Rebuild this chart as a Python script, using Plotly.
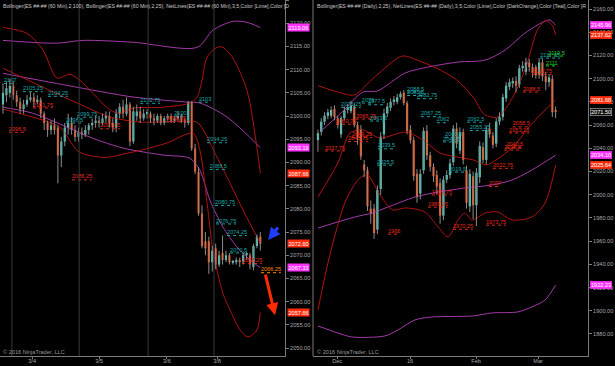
import plotly.graph_objects as go

# ---------------- 60-min panel data ----------------
h_open = [2102.5, 2104.5, 2105, 2106.5, 2104.5, 2103, 2101.5, 2102.5, 2103.5, 2104, 2103, 2103.5, 2100.5, 2098.5,
          2097, 2098, 2097.5, 2091.5, 2094.5, 2097.5, 2098.5, 2097, 2095.5, 2096.5, 2096, 2097, 2098, 2098.5,
          2099, 2098.5, 2099.5, 2100, 2098.5, 2097.5, 2100.5, 2102, 2100.5, 2102.5, 2094.5, 2100, 2101, 2099.5,
          2100.5, 2100.5, 2099.5, 2099, 2100, 2098.5, 2099.5, 2100, 2099, 2099.5, 2100, 2099, 2098.5, 2103,
          2093, 2088, 2079, 2073, 2073, 2068.5, 2071.5, 2068, 2070.5, 2069, 2070, 2068.5, 2068.5, 2069, 2068.5,
          2070, 2070, 2067.5, 2072, 2074]
h_high = [2107, 2107.5, 2108, 2107.5, 2105.5, 2104, 2103.5, 2104.5, 2105.25, 2105, 2104.5, 2104, 2101, 2099,
          2099, 2099.5, 2098, 2095.5, 2098.5, 2100.5, 2099.75, 2098, 2097.5, 2097.5, 2098, 2098.5, 2099.5, 2100,
          2100, 2100.5, 2101, 2101, 2099.5, 2101.5, 2102.75, 2103.5, 2104, 2103, 2102, 2102.5, 2102, 2101.5,
          2101.5, 2101, 2100.5, 2100.5, 2100.5, 2100, 2100.5, 2100.5, 2100, 2101, 2100.5, 2099.5, 2103.25, 2103.25,
          2094, 2089, 2080.75, 2075, 2074, 2072, 2072.5, 2071, 2074.25, 2071, 2070.5, 2069, 2069.5, 2069.5, 2070.5,
          2070.75, 2070.5, 2072.5, 2074.5, 2075]
h_low = [2100.5, 2103, 2104, 2103.5, 2102, 2100.5, 2100.5, 2102, 2103, 2102, 2102.5, 2099.5, 2097, 2095.5,
         2096, 2096, 2085.5, 2089, 2093.5, 2096, 2096, 2094.5, 2094.5, 2095, 2095.5, 2096, 2097, 2097.5,
         2097.5, 2098, 2098.5, 2097.5, 2096.5, 2096.5, 2099.5, 2099.5, 2100, 2093.5, 2094, 2099, 2098.5, 2099,
         2099.5, 2098.5, 2098, 2098.5, 2098, 2098, 2099, 2098.5, 2098.5, 2099, 2098.5, 2097.5, 2098, 2092.5,
         2087.5, 2078.5, 2071.5, 2070, 2066, 2066.5, 2067, 2067.5, 2068, 2068.5, 2068, 2068, 2068, 2067.5, 2068,
         2069, 2067, 2066.75, 2071.5, 2071]
h_close = [2105, 2106, 2106.5, 2104.5, 2103, 2101.5, 2102.5, 2103.5, 2104, 2103, 2103.5, 2100.5, 2098.5, 2097,
           2098, 2097, 2091.5, 2094.5, 2097.5, 2098.5, 2097, 2095.5, 2096.5, 2096, 2097, 2098, 2098.5, 2099,
           2098.5, 2099.5, 2100, 2098.5, 2097.5, 2100.5, 2102, 2100.5, 2102.5, 2094.5, 2101, 2101, 2099.5, 2100.5,
           2100.75, 2099.5, 2099, 2100, 2098.5, 2099.5, 2100, 2099, 2099.5, 2100, 2099, 2098.5, 2103, 2093,
           2088, 2079, 2072, 2071.5, 2068.5, 2071, 2068, 2070, 2069, 2070, 2068.5, 2068.75, 2069, 2068.5, 2070,
           2070.5, 2068, 2072, 2074, 2072.5]

# Bollinger(2,25) on 60-min (bar index, price)
h_bb25_up_x = [0, 7, 11.7, 15.7, 19.5, 22.4, 26.2, 31.2, 34.1, 37.9, 46.6, 54.5, 56.6, 58, 59.5, 62.4, 64.1, 67, 71.1, 74, 75]
h_bb25_up_y = [2119.1, 2117.8, 2114.2, 2108.2, 2109.0, 2107.7, 2104.9, 2101.3, 2100.6, 2101.7, 2101.9, 2102.8, 2104.1,
               2107.7, 2112.7, 2114.8, 2114.8, 2112.5, 2105.6, 2093.3, 2087.66]
h_bb25_mid_x = [0, 11.7, 21.6, 31.2, 40, 54.5, 56.9, 62.4, 66.2, 70, 75]
h_bb25_mid_y = [2110.3, 2106.2, 2102.8, 2099.8, 2098.7, 2098.9, 2098.5, 2091.1, 2085.5, 2079.7, 2072.60]
h_bb25_lo_x = [0, 11.7, 16.6, 21.6, 24.5, 30.3, 36.2, 40, 47.8, 55.4, 57.4, 59.5, 61.2, 64.1, 66.2, 69.1, 71.4, 74, 75]
h_bb25_lo_y = [2101.5, 2099.1, 2097.6, 2092.6, 2091.6, 2091.1, 2092.0, 2092.6, 2094.2, 2096.3, 2092.6, 2081.2, 2071.1,
               2061.8, 2058.2, 2053.9, 2052.4, 2053.9, 2057.66]
# Bollinger(2,100) on 60-min
h_bb100_up_x = [0, 15.7, 23.3, 37.9, 56.6, 61.2, 67, 71.1, 75]
h_bb100_up_y = [2116.3, 2115.7, 2116.3, 2115.9, 2114.8, 2118.5, 2120.4, 2120.2, 2119.06]
h_bb100_mid_x = [0, 18.7, 37.9, 53.6, 57.4, 65.3, 75]
h_bb100_mid_y = [2109.2, 2106.6, 2104.1, 2103.0, 2102.8, 2099.8, 2093.19]
h_bb100_lo_x = [0, 8.7, 18.7, 26.2, 35, 46.6, 54.5, 57.4, 60.3, 64.1, 68.2, 72, 75]
h_bb100_lo_y = [2101.9, 2100.6, 2097.6, 2095.2, 2093.1, 2091.6, 2090.9, 2088.3, 2081.9, 2076.1, 2071.8, 2069.0, 2067.33]

# NetLines labels on 60-min: value, start bar, colour key
h_lbl_val = [2107, 2105.25, 2104.25, 2101.75, 2098.5, 2099.75, 2096.5, 2086.25, 2102.75, 2103, 2100, 2098.75,
             2097.25, 2094.25, 2088.5, 2080.75, 2076.75, 2074.25, 2070.5, 2068.25, 2066.25]
h_lbl_x = [0.3, 5.8, 13.1, 8.7, 18.4, 21.6, 1.7, 20.1, 40, 57.1, 49.9, 47.5, 28.3, 59.5, 60.3, 61.8, 62.1, 65.3,
           66.2, 69.7, 75.2]
h_lbl_c = ['t', 't', 't', 'r', 't', 't', 'r', 'r', 't', 't', 't', 'r', 'r', 't', 't', 't', 't', 't', 't', 'r', 'o']

h_tick_pos = [8.5, 28, 47.8, 62.4]
h_tick_txt = ['3/4', '3/5', '3/6', '3/8']
h_sessions = [2.6, 22.2, 42.3, 61.5]
h_tags = [(2119.06, 'm'), (2093.19, 'm'), (2087.66, 'r'), (2072.60, 'r'), (2067.33, 'm'), (2057.66, 'r')]

# ---------------- Daily panel data ----------------
d_open = [2047, 2054, 2063, 2068, 2068, 2074, 2066, 2052, 2066, 2073, 2072, 2076, 2060, 2056, 2026, 2021, 1988,
          1988, 1970, 2005, 2052, 2070, 2075, 2080, 2080, 2084, 2088, 2079, 2056, 2047, 2018, 2001, 2021, 2055,
          2034, 2024, 2017, 2010, 1982, 2013, 2017, 2028, 2057, 2038, 2054, 2021, 1990, 2016, 1991, 2015, 2041,
          2030, 2057, 2051, 2044, 2063, 2067, 2083, 2093, 2096, 2098, 2095, 2109, 2106, 2114, 2110, 2110, 2103,
          2114, 2102, 2097, 2100, 2073]
d_high = [2056, 2066, 2071, 2074, 2076, 2077, 2068, 2068, 2076, 2078, 2081, 2079, 2063, 2060, 2030, 2024, 1995,
          1992, 2008, 2054, 2074, 2079, 2083, 2085, 2087, 2089, 2090, 2081, 2060, 2050, 2022, 2022, 2058, 2060,
          2037, 2027, 2021, 2014, 2016, 2021, 2031, 2060, 2062, 2058, 2057, 2025, 2022, 2020, 2023, 2046, 2045,
          2059, 2062, 2054, 2066, 2071, 2087, 2097, 2100, 2101, 2102, 2112, 2115, 2118, 2117, 2113, 2112, 2117.75,
          2117, 2106, 2104, 2103, 2076]
d_low = [2037, 2051, 2060, 2065, 2066, 2064, 2057, 2049, 2064, 2070, 2070, 2058, 2043, 2030, 2015, 1986, 1975,
         1962, 1966, 2000, 2048, 2067, 2072, 2077, 2078, 2082, 2077, 2052, 2044, 2012, 1993, 1996, 2018, 2030,
         2020, 2011, 2000, 1975, 1978, 2010, 2014, 2025, 2040, 2035, 2026, 1988, 1985, 1979, 1973, 2010, 2027,
         2026, 2049, 2040, 2041, 2060, 2064, 2080, 2090, 2092, 2088, 2092, 2106, 2103, 2106, 2101, 2100, 2100,
         2098, 2090, 2093, 2067, 2066]
d_close = [2053, 2063, 2068, 2071, 2073, 2067, 2060, 2066, 2073, 2075, 2077, 2060, 2050, 2033, 2021, 1990, 1984,
           1967, 2004, 2050, 2070, 2076, 2080, 2082, 2084, 2087, 2079, 2055, 2047, 2016, 1998, 2018, 2055, 2034,
           2024, 2016, 2007, 1982, 2013, 2017, 2027, 2057, 2044, 2054, 2030, 1993, 2018, 1991, 2019, 2042, 2030,
           2056, 2052, 2043, 2063, 2067, 2084, 2094, 2097, 2098, 2094, 2109, 2111, 2114, 2110, 2105, 2103, 2114,
           2102, 2097, 2101, 2071, 2071.5]

d_bb_up_x = [0, 6, 11, 17, 25.5, 30, 36, 42, 47, 50.5, 54.5, 59, 63, 66.5, 69, 71, 72]
d_bb_up_y = [2094, 2088.5, 2086, 2101, 2119.5, 2116, 2109, 2099, 2084, 2069, 2067, 2084, 2110, 2142, 2150, 2146, 2137.62]
d_bb_mid_x = [0, 6, 9.7, 13.6, 18.8, 26.7, 31.8, 37, 42, 47, 51, 54, 59, 65, 72]
d_bb_mid_y = [1998, 2027.3, 2053.2, 2055.8, 2048.9, 2054, 2047.1, 2036, 2032.5, 2030, 2025.6, 2030, 2041, 2061.8, 2081.68]
d_bb_lo_x = [0, 3.6, 8.5, 12.7, 15, 18.8, 22.7, 26.4, 32.4, 36.4, 39.4, 42.4, 44.5, 46.7, 50.6, 54.5, 58.8, 64.8, 68.8, 72]
d_bb_lo_y = [1900.7, 1948, 1995.4, 2014.4, 2017, 1999.8, 1986.8, 1988.6, 1985.1, 1972.2, 1963.6, 1978.2, 1984.2,
             1978.2, 1984.2, 1985.1, 1978.2, 1980.8, 1992.9, 2025.64]
d_pu_up_x = [0.6, 7.3, 13.6, 18, 26.4, 33.3, 42.4, 50.6, 56.7, 62.7, 68.8, 70.3, 72]
d_pu_up_y = [2054, 2071.3, 2088.5, 2089.4, 2104.9, 2110, 2114.3, 2116, 2124.7, 2139.3, 2149.7, 2150.5, 2145.96]
d_pu_mid_x = [0, 11.2, 16.4, 21.2, 29.4, 36.4, 44.5, 52.7, 58.8, 64.8, 72]
d_pu_mid_y = [1971.3, 1980.8, 1984.2, 1989.4, 1998, 2002.3, 2005.8, 2008.4, 2012.7, 2021.3, 2034.10]
d_pu_lo_x = [0, 6, 10.3, 20.3, 24.2, 29.4, 34.5, 46.7, 52.7, 60.6, 64.8, 68.8, 72]
d_pu_lo_y = [1886.9, 1880.9, 1877.4, 1878.3, 1883.4, 1892.1, 1894.6, 1895.5, 1898.1, 1899, 1903.3, 1909.3, 1922.23]

d_lbl_val = [2075.25, 2077.5, 2079, 2060.75, 2065.25, 2045.75, 2049.25, 2063.5, 2039.5, 2037.75, 2025.5, 2088.5,
             2085.5, 2082.75, 2067.25, 2062, 2049.5, 2045.5, 2062.5, 2055.25, 2019.5, 2007, 1999.75, 1989.25,
             1966, 1970.25, 1973.75, 2022.75, 2040.5, 2038.5, 2058.5, 2053.25, 2088.5, 2103.75, 2117.75, 2119.5, 2111]
d_lbl_x = [7.0, 15.2, 13.3, 5.5, 11.5, 9.1, 10.3, 15.8, 18.2, 2.1, 17.9, 27, 27, 30, 31.2, 36, 38.5, 37.9, 45.2, 46,
           39.7, 51.8, 34.5, 33.3, 21.2, 40.9, 50.9, 53, 57, 56.4, 59, 57.9, 62.1, 64.8, 67.3, 69.7, 69.1]
d_lbl_c = ['t', 't', 't', 'r', 'r', 'r', 'r', 't', 't', 'r', 't', 't', 't', 't', 't', 't', 't', 't', 't', 't',
           't', 'r', 'r', 'r', 'r', 'r', 'r', 'r', 'r', 'r', 'r', 'r', 'r', 'r', 't', 'g', 'g']

d_tick_pos = [5.8, 27.9, 47.9, 66.7]
d_tick_txt = ['Dec', '16', 'Feb', 'Mar']
d_tags = [(2145.96, 'm'), (2137.62, 'r'), (2081.68, 'r'), (2071.50, 'k'), (2034.10, 'm'), (2025.64, 'r'), (1922.23, 'm')]

# ---------------- styling ----------------
FONT = "Liberation Sans, Arial, sans-serif"
UP, DN, WICK = '#40E0D0', '#FF4500', '#8c8c8c'
BAND_RED, BAND_PUR = '#b01410', '#a23aa8'
LBL_COL = {'t': '#1fa6a6', 'r': '#e62a1c', 'o': '#ff8c00', 'g': '#1fd41f'}
TAG_COL = {'m': '#ff33ff', 'r': '#ff2d0d', 'k': '#111111'}
AX_COL = '#a8a8a8'
FS = 5.6
FS_TITLE = 5.2

fig = go.Figure()


def add_candles(o, h, l, c, xa, ya, width, minh):
    xs = list(range(len(o)))
    wx, wy = [], []
    for i in xs:
        wx += [i, i, None]
        wy += [l[i], h[i], None]
    fig.add_trace(go.Scatter(x=wx, y=wy, mode='lines', line=dict(color=WICK, width=1),
                             xaxis=xa, yaxis=ya, hoverinfo='skip'))
    base = [min(a, b) for a, b in zip(o, c)]
    hgt = [max(abs(b - a), minh) for a, b in zip(o, c)]
    cols = [UP if b > a else (DN if b < a else WICK) for a, b in zip(o, c)]
    fig.add_trace(go.Bar(x=xs, y=hgt, base=base, width=width, marker=dict(color=cols, line=dict(width=0)),
                         xaxis=xa, yaxis=ya, hoverinfo='skip'))


def add_line(xv, yv, col, xa, ya):
    fig.add_trace(go.Scatter(x=xv, y=yv, mode='lines', line=dict(color=col, width=1, shape='spline', smoothing=0.8),
                             xaxis=xa, yaxis=ya, hoverinfo='skip'))


def add_labels(vals, xs, cs, xa, ya, px_per_bar):
    for key in sorted(set(cs)):
        tx, ty, tt, lx, ly = [], [], [], [], []
        for v, x, c in zip(vals, xs, cs):
            if c != key:
                continue
            s = ('%.2f' % v).rstrip('0').rstrip('.')
            tx.append(x)
            ty.append(v)
            tt.append(s)
            wpx = 3.05 * len(s.replace('.', '')) + 1.5 * s.count('.')
            lx += [x, x + wpx / px_per_bar, None]
            ly += [v, v, None]
        fig.add_trace(go.Scatter(x=lx, y=ly, mode='lines', line=dict(color=LBL_COL[key], width=1, dash='dot'),
                                 xaxis=xa, yaxis=ya, hoverinfo='skip'))
        fig.add_trace(go.Scatter(x=tx, y=ty, mode='text', text=tt, textposition='top right',
                                 textfont=dict(family=FONT, size=FS, color=LBL_COL[key]),
                                 xaxis=xa, yaxis=ya, hoverinfo='skip'))


# left panel
add_line(h_bb100_up_x, h_bb100_up_y, BAND_PUR, 'x', 'y')
add_line(h_bb100_mid_x, h_bb100_mid_y, BAND_PUR, 'x', 'y')
add_line(h_bb100_lo_x, h_bb100_lo_y, BAND_PUR, 'x', 'y')
add_line(h_bb25_up_x, h_bb25_up_y, BAND_RED, 'x', 'y')
add_line(h_bb25_mid_x, h_bb25_mid_y, BAND_RED, 'x', 'y')
add_line(h_bb25_lo_x, h_bb25_lo_y, BAND_RED, 'x', 'y')
add_candles(h_open, h_high, h_low, h_close, 'x', 'y', 0.62, 0.3)
add_labels(h_lbl_val, h_lbl_x, h_lbl_c, 'x', 'y', 3.43)

# right panel
add_line(d_pu_up_x, d_pu_up_y, BAND_PUR, 'x2', 'y2')
add_line(d_pu_mid_x, d_pu_mid_y, BAND_PUR, 'x2', 'y2')
add_line(d_pu_lo_x, d_pu_lo_y, BAND_PUR, 'x2', 'y2')
add_line(d_bb_up_x, d_bb_up_y, BAND_RED, 'x2', 'y2')
add_line(d_bb_mid_x, d_bb_mid_y, BAND_RED, 'x2', 'y2')
add_line(d_bb_lo_x, d_bb_lo_y, BAND_RED, 'x2', 'y2')
add_candles(d_open, d_high, d_low, d_close, 'x2', 'y2', 0.68, 1.0)
add_labels(d_lbl_val, d_lbl_x, d_lbl_c, 'x2', 'y2', 3.3)

W, H = 615, 366
YD = [10 / H, 1]
L_DOM = [0, 285 / W]
R_DOM = [313 / W, 588 / W]

axis_common = dict(showgrid=False, zeroline=False, showline=True, linecolor='#7a7a7a', linewidth=1,
                   ticks='outside', ticklen=3, tickcolor='#7a7a7a', automargin=False,
                   tickfont=dict(family=FONT, size=FS, color=AX_COL))
xaxis_extra = dict(ticklen=2, ticklabelstandoff=-3)

annotations = []
for v, k in h_tags:
    annotations.append(dict(x=287 / W, xref='paper', y=v, yref='y', text='%.2f' % v, showarrow=False,
                            xanchor='left', yanchor='middle', bgcolor=TAG_COL[k], borderpad=0.5,
                            font=dict(family=FONT, size=FS, color='white')))
for v, k in d_tags:
    annotations.append(dict(x=590 / W, xref='paper', y=v, yref='y2', text='%.2f' % v, showarrow=False,
                            xanchor='left', yanchor='middle', bgcolor=TAG_COL[k], borderpad=0.5,
                            bordercolor='#cfcfcf' if k == 'k' else TAG_COL[k], borderwidth=0.5,
                            font=dict(family=FONT, size=FS, color='white')))

annotations += [
    dict(x=0.002, y=0.998, xref='paper', yref='paper', xanchor='left', yanchor='top', showarrow=False,
         text='Bollinger(ES ##-## (60 Min),2,100), Bollinger(ES ##-## (60 Min),2,25), NetLines(ES ##-## (60 Min),3,5,Color [Lime],Color [D',
         font=dict(family=FONT, size=FS_TITLE, color='#c8c8c8')),
    dict(x=315 / W, y=0.998, xref='paper', yref='paper', xanchor='left', yanchor='top', showarrow=False,
         text='Bollinger(ES ##-## (Daily),2,25), NetLines(ES ##-## (Daily),3,5,Color [Lime],Color [DarkOrange],Color [Teal],Color [R',
         font=dict(family=FONT, size=FS_TITLE, color='#c8c8c8')),
    dict(x=0.002, y=(H - 352) / H, xref='paper', yref='paper', xanchor='left', yanchor='middle', showarrow=False,
         text='© 2016 NinjaTrader, LLC', font=dict(family=FONT, size=FS, color='#9a9a9a')),
    dict(x=315 / W, y=(H - 352) / H, xref='paper', yref='paper', xanchor='left', yanchor='middle', showarrow=False,
         text='© 2016 NinjaTrader, LLC', font=dict(family=FONT, size=FS, color='#9a9a9a')),
    # hand-drawn arrows
    dict(x=77.3, y=2073.3, xref='x', yref='y', ax=11, ay=-14, showarrow=True, arrowhead=2, arrowsize=0.8,
         arrowwidth=3, arrowcolor='#1f3cff', text=''),
    dict(x=79.3, y=2057.1, xref='x', yref='y', ax=-10, ay=-42, showarrow=True, arrowhead=2, arrowsize=0.8,
         arrowwidth=3, arrowcolor='#ff2a00', text=''),
]

shapes = [dict(type='line', xref='x', yref='paper', x0=s, x1=s, y0=YD[0], y1=1,
               line=dict(color='#3a3a3a', width=1)) for s in h_sessions]
shapes.append(dict(type='line', xref='paper', yref='paper', x0=313 / W, x1=313 / W, y0=YD[0], y1=1,
                   line=dict(color='#7a7a7a', width=1)))

fig.update_layout(
    width=W, height=H, margin=dict(l=0, r=0, t=0, b=0, autoexpand=False),
    paper_bgcolor='black', plot_bgcolor='black', showlegend=False,
    xaxis=dict(domain=L_DOM, anchor='y', range=[-0.87, 82.2], tickvals=h_tick_pos, ticktext=h_tick_txt,
               **axis_common),
    yaxis=dict(domain=YD, anchor='x', side='right', range=[2048.3, 2125], dtick=5, tickformat='.2f',
               **axis_common),
    xaxis2=dict(domain=R_DOM, anchor='y2', range=[-1.5, 81.8], tickvals=d_tick_pos, ticktext=d_tick_txt,
                **axis_common),
    yaxis2=dict(domain=YD, anchor='x2', side='right', range=[1861, 2167.8], dtick=20, tickformat='.2f',
                **axis_common),
    annotations=annotations, shapes=shapes,
)
fig.update_xaxes(**xaxis_extra)

fig.write_html("out.html", config={'displayModeBar': False},
               post_script="document.body.style.margin='0px';document.body.style.background='black';")
